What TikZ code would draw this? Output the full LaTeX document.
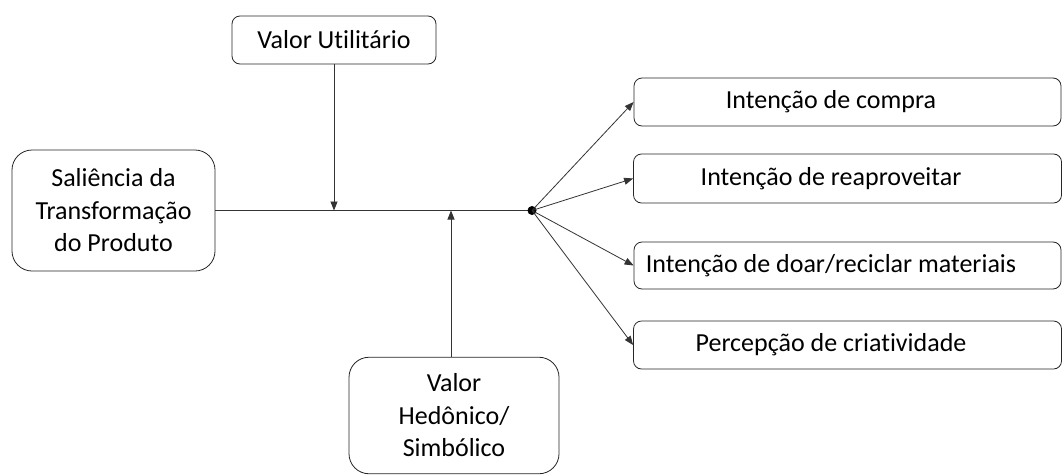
\documentclass[tikz,border=0pt]{standalone}
\usepackage{fontspec}
\setmainfont{Carlito}[Ligatures={NoCommon}]
\usetikzlibrary{arrows.meta}
\begin{document}
\begin{tikzpicture}[x=1pt,y=-1pt,
  box/.style={draw=black!85, line width=0.8pt, fill=white, rectangle, inner sep=0pt, align=center,
    font=\fontsize{26}{32.5}\selectfont},
  bigbox/.style={box, rounded corners=20pt},
  smallbox/.style={box, rounded corners=8pt},
  lbl/.style={inner sep=0pt, font=\fontsize{26}{32.5}\selectfont},
  conn/.style={draw=black!80, line width=0.8pt},
  arr/.style={conn, -{Triangle[length=9pt,width=7pt]}}]
\useasboundingbox (0,0) rectangle (1062,474);
\fill[white] (0,0) rectangle (1062,474);

\node[smallbox, minimum width=204pt, minimum height=48pt] (vu) at (334,40) {Valor Utilitário};
\node[bigbox, minimum width=203pt, minimum height=121pt] (sal) at (113.5,210.5) {Saliência da\\Transformação\\do Produto};
\node[bigbox, minimum width=210pt, minimum height=116.5pt] (vh) at (454,415.5) {Valor\\Hedônico/\\Simbólico};

\node[smallbox, minimum width=427pt, minimum height=48pt] (i1) at (847.5,102) {};
\node[smallbox, minimum width=428pt, minimum height=49pt] (i2) at (847.5,178.5) {};
\node[smallbox, minimum width=427pt, minimum height=47pt] (i3) at (847.5,265.5) {};
\node[smallbox, minimum width=428pt, minimum height=48pt] (i4) at (847.5,345) {};
\node[lbl] (t1) at (831,102) {Intenção de compra};
\node[lbl] (t2) at (831,178.5) {Intenção de reaproveitar};
\node[lbl] (t3) at (831,265.5) {Intenção de doar/reciclar materiais};
\node[lbl] (t4) at (831,345) {Percepção de criatividade};

\coordinate (dot) at (532,210.5);
\coordinate (j1) at (334,210.5);
\coordinate (j2) at (451,210.5);

\draw[conn] (sal.east |- dot) -- (dot);
\draw[arr] (vu.south) -- (j1);
\draw[arr] (j2 |- vh.north) -- (j2);
\fill[black] (dot) circle (4.5pt);
\draw[arr] (dot) -- (i1.west);
\draw[arr] (dot) -- (i2.west);
\draw[arr] (dot) -- (i3.west);
\draw[arr] (dot) -- (i4.west);
\end{tikzpicture}
\end{document}
